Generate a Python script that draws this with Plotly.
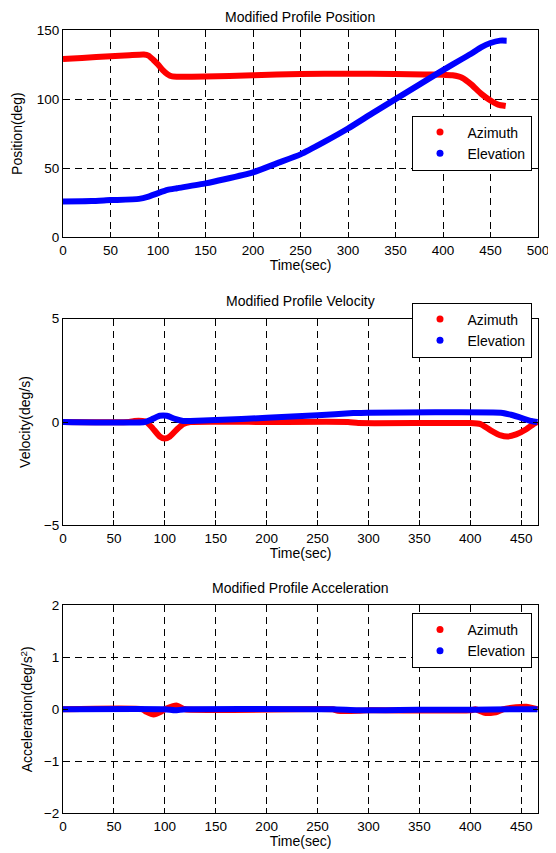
import plotly.graph_objects as go

# ---------------- data ----------------
# Position (deg)
pos_az_t = [0, 20, 50, 70, 85, 90, 95, 100, 105, 110, 115, 120, 150, 200, 250, 300, 350, 380, 400, 410, 420, 430, 440, 450, 458, 466]
pos_az_v = [129, 129.8, 131, 131.8, 132.3, 131.5, 128.5, 125, 121, 118, 116.4, 116.2, 116.3, 117.2, 118.2, 118.3, 118.2, 117.8, 117.7, 117.2, 115.5, 110.5, 104, 99, 96, 95]

pos_el_t = [0, 30, 50, 80, 90, 100, 110, 120, 150, 170, 200, 225, 250, 275, 300, 325, 350, 375, 400, 420, 430, 440, 450, 460, 467]
pos_el_v = [25.9, 26.2, 26.9, 27.8, 29.5, 32, 34.3, 35.5, 39, 42, 47, 53.5, 60, 69, 78.7, 89.5, 100, 110.5, 121, 129, 133, 137.5, 140.6, 142.3, 142.3]

# Velocity (deg/s)
vel_az_t = [0, 65, 70, 78, 82, 88, 95, 100, 105, 112, 118, 125, 200, 280, 290, 400, 410, 420, 430, 437, 445, 455, 462, 466]
vel_az_v = [0, 0, 0.05, 0.05, 0, -0.3, -0.7, -0.8, -0.7, -0.35, -0.1, 0, 0, 0, -0.05, -0.05, -0.1, -0.4, -0.65, -0.7, -0.6, -0.35, -0.1, 0]

vel_el_t = [0, 80, 88, 95, 102, 110, 118, 125, 150, 200, 250, 285, 300, 430, 440, 450, 460, 466]
vel_el_v = [0, 0, 0.15, 0.3, 0.3, 0.15, 0.05, 0.05, 0.1, 0.2, 0.33, 0.43, 0.45, 0.45, 0.35, 0.2, 0.05, 0]

# Acceleration (deg/s^2)
acc_az_t = [0, 78, 82, 89, 96, 100, 108, 112, 120, 265, 270, 290, 300, 400, 405, 415, 425, 432, 445, 455, 466]
acc_az_v = [0, 0, -0.05, -0.1, -0.05, 0, 0.06, 0.07, 0, 0, -0.03, -0.03, -0.02, -0.02, 0, -0.07, -0.06, 0, 0.04, 0.05, 0]

acc_el_t = [0, 100, 110, 120, 265, 290, 350, 400, 440, 466]
acc_el_v = [0, 0, -0.02, 0, 0, -0.02, -0.01, -0.01, 0, 0]

series_names = ["Azimuth", "Elevation"]
series_colors = ["#ff0000", "#0000ff"]

titles = ["Modified Profile Position", "Modified Profile Velocity", "Modified Profile Acceleration"]
ylabels = ["Position(deg)", "Velocity(deg/s)", "Acceleration(deg/s<sup>2</sup>)"]

# ---------------- figure ----------------
OFF = 8  # page body margin
W, H = 556 - OFF, 853 - OFF
fig = go.Figure()
FONT = "Liberation Sans, Arial, sans-serif"

panels = [
    (pos_az_t, pos_az_v, pos_el_t, pos_el_v),
    (vel_az_t, vel_az_v, vel_el_t, vel_el_v),
    (acc_az_t, acc_az_v, acc_el_t, acc_el_v),
]

def px_x(p):
    return (p - OFF) / W

def px_y(p):
    return 1 - (p - OFF) / H

# pixel boxes in page coordinates (left, right, top, bottom)
boxes = [(63, 538, 30, 237.3), (63, 538, 318.7, 525.3), (63, 538, 605.3, 813.3)]
yranges = [[0, 150], [-5, 5], [-2, 2]]
ydticks = [50, 5, 1]
xranges = [[0, 500], [0, 466.5], [0, 466.5]]
legend_tops = [115.5, 302.5, 613]
title_centers = [17.5, 301, 588]
ystand = [10, 9, 7]

for i, (at, av, et, ev) in enumerate(panels):
    sfx = "" if i == 0 else str(i + 1)
    xa = "x" + sfx
    ya = "y" + sfx
    lg = "legend" + sfx
    for name, col, tt, vv in [(series_names[0], series_colors[0], at, av),
                              (series_names[1], series_colors[1], et, ev)]:
        fig.add_trace(go.Scatter(x=tt, y=vv, mode="lines",
                                 line=dict(color=col, width=6, shape="spline", smoothing=0.5),
                                 xaxis=xa, yaxis=ya, showlegend=False, hoverinfo="skip"))
    for name, col in zip(series_names, series_colors):
        fig.add_trace(go.Scatter(x=[None], y=[None], mode="markers", name=name,
                                 marker=dict(color=col, size=7),
                                 xaxis=xa, yaxis=ya, legend=lg, showlegend=True))
    l, r, t, b = boxes[i]
    axcommon = dict(showline=True, linecolor="black", linewidth=1, mirror="ticks",
                    ticks="inside", ticklen=5, tickcolor="black", showgrid=True,
                    gridcolor="black", griddash="7px,5px", gridwidth=1, zeroline=False,
                    automargin=False,
                    tickfont=dict(family=FONT, size=13.5, color="black"))
    fig.update_layout(**{
        "xaxis" + sfx: dict(domain=[px_x(l), px_x(r)], range=xranges[i], dtick=50, tick0=0,
                            anchor=ya,
                            title=dict(text="Time(sec)", font=dict(family=FONT, size=14, color="black"), standoff=2),
                            **axcommon),
        "yaxis" + sfx: dict(domain=[px_y(b), px_y(t)], range=yranges[i], dtick=ydticks[i],
                            anchor=xa,
                            title=dict(text=ylabels[i], font=dict(family=FONT, size=14, color="black"), standoff=ystand[i]),
                            **axcommon),
        lg: dict(x=px_x(531.5), xanchor="right", y=px_y(legend_tops[i]), yanchor="top",
                 bgcolor="white", bordercolor="black", borderwidth=1,
                 font=dict(family=FONT, size=14, color="black"), itemwidth=45,
                 tracegroupgap=0),
    })
    fig.add_annotation(text=titles[i], xref="paper", yref="paper",
                       x=px_x((l + r) / 2), y=px_y(title_centers[i]), xanchor="center", yanchor="middle",
                       showarrow=False, font=dict(family=FONT, size=14, color="black"))

fig.update_layout(width=W, height=H, margin=dict(l=0, r=0, t=0, b=0, autoexpand=False),
                  paper_bgcolor="white", plot_bgcolor="white",
                  font=dict(family=FONT, size=13, color="black"))

fig.write_html("out.html")
